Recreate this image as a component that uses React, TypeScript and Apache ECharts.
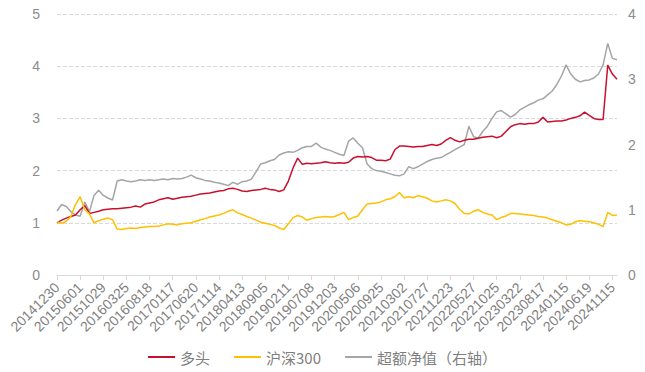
import React, { useEffect, useRef } from "react";
import * as echarts from "echarts";

const X_LABELS = [
  "20141230", "20150601", "20151029", "20160325", "20160818", "20170117", "20170620",
  "20171114", "20180413", "20180905", "20190211", "20190708", "20191203", "20200506",
  "20200925", "20210302", "20210727", "20211223", "20220527", "20221025", "20230322",
  "20230817", "20240115", "20240619", "20241115",
];
const POINTS_PER_LABEL = 5;

const LONG_NAV = [
  1.00, 1.05, 1.09, 1.12, 1.15, 1.25, 1.33, 1.18, 1.20, 1.22,
  1.25, 1.26, 1.27, 1.27, 1.28, 1.29, 1.30, 1.32, 1.30, 1.36,
  1.38, 1.40, 1.44, 1.46, 1.48, 1.45, 1.47, 1.49, 1.50, 1.51,
  1.53, 1.55, 1.56, 1.57, 1.59, 1.61, 1.62, 1.65, 1.66, 1.64,
  1.61, 1.60, 1.62, 1.63, 1.64, 1.66, 1.64, 1.63, 1.60, 1.63,
  1.80, 2.05, 2.24, 2.12, 2.14, 2.13, 2.14, 2.15, 2.17, 2.15,
  2.14, 2.15, 2.14, 2.16, 2.24, 2.27, 2.26, 2.27, 2.25, 2.20,
  2.20, 2.19, 2.22, 2.40, 2.47, 2.47, 2.46, 2.45, 2.46, 2.46,
  2.48, 2.50, 2.48, 2.51, 2.58, 2.63, 2.58, 2.55, 2.58, 2.60,
  2.60, 2.62, 2.64, 2.65, 2.66, 2.63, 2.66, 2.75, 2.84, 2.88,
  2.90, 2.89, 2.90, 2.90, 2.93, 3.02, 2.93, 2.94, 2.95, 2.95,
  2.97, 3.00, 3.02, 3.05, 3.12, 3.06, 3.00, 2.98, 2.98, 4.02,
  3.85, 3.75,
];

const HS300 = [
  1.02, 0.99, 1.03, 1.12, 1.35, 1.50, 1.25, 1.17, 1.00, 1.04,
  1.07, 1.09, 1.06, 0.88, 0.87, 0.89, 0.90, 0.89, 0.91, 0.92,
  0.93, 0.93, 0.94, 0.96, 0.98, 0.97, 0.96, 0.98, 0.99, 1.00,
  1.03, 1.06, 1.08, 1.11, 1.13, 1.15, 1.18, 1.22, 1.25, 1.19,
  1.16, 1.12, 1.09, 1.05, 1.01, 0.99, 0.97, 0.95, 0.90, 0.87,
  0.98, 1.10, 1.14, 1.11, 1.05, 1.08, 1.10, 1.11, 1.12, 1.11,
  1.12, 1.16, 1.20, 1.06, 1.10, 1.13, 1.25, 1.36, 1.37, 1.38,
  1.40, 1.44, 1.46, 1.50, 1.58, 1.48, 1.50, 1.48, 1.52, 1.50,
  1.47, 1.42, 1.40, 1.42, 1.44, 1.42, 1.37, 1.26, 1.18, 1.17,
  1.22, 1.25, 1.20, 1.17, 1.15, 1.06, 1.10, 1.13, 1.18, 1.18,
  1.17, 1.16, 1.15, 1.14, 1.12, 1.11, 1.09, 1.06, 1.03, 1.00,
  0.96, 0.97, 1.02, 1.04, 1.03, 1.02, 1.00, 0.97, 0.93, 1.20,
  1.14, 1.15,
];

const EXCESS = [
  0.98, 1.08, 1.05, 0.97, 0.92, 0.90, 1.12, 0.97, 1.22, 1.30,
  1.22, 1.18, 1.15, 1.44, 1.46, 1.44, 1.43, 1.44, 1.46, 1.45,
  1.46, 1.45, 1.46, 1.47, 1.46, 1.48, 1.47, 1.48, 1.50, 1.53,
  1.49, 1.47, 1.45, 1.44, 1.42, 1.41, 1.39, 1.37, 1.42, 1.39,
  1.43, 1.44, 1.47, 1.58, 1.70, 1.72, 1.75, 1.77, 1.84, 1.87,
  1.89, 1.88, 1.91, 1.95, 1.97, 1.97, 2.02, 1.96, 1.93, 1.91,
  1.88, 1.85, 1.83, 2.05, 2.10, 2.02, 1.95, 1.70, 1.63, 1.60,
  1.59, 1.57, 1.55, 1.53, 1.52, 1.55, 1.66, 1.63, 1.66, 1.70,
  1.74, 1.77, 1.79, 1.80, 1.84, 1.88, 1.92, 1.96, 2.00, 2.28,
  2.12, 2.10, 2.20, 2.28, 2.40, 2.50, 2.52, 2.47, 2.42, 2.46,
  2.53, 2.57, 2.61, 2.64, 2.68, 2.70, 2.76, 2.82, 2.92, 3.05,
  3.22, 3.08, 3.00, 2.96, 2.98, 2.99, 3.02, 3.08, 3.22, 3.55,
  3.32, 3.30,
];

const SERIES_NAMES = ["多头", "沪深300", "超额净值（右轴）"];
const COLORS = ["#C8102E", "#FFC000", "#A5A5A5"];

const CJK_FONT = "'Noto Sans CJK SC', 'Noto Sans', sans-serif";
const NUM_FONT = "'Liberation Sans', Arial, sans-serif";

export default function App() {
  const ref = useRef<HTMLDivElement>(null);

  useEffect(() => {
    if (!ref.current) return;
    const chart = echarts.init(ref.current, undefined, { renderer: "svg" });
    const categories = LONG_NAV.map((_, i) =>
      i % POINTS_PER_LABEL === 0 ? X_LABELS[i / POINTS_PER_LABEL] ?? "" : ""
    );
    chart.setOption({
      animation: false,
      textStyle: { fontFamily: CJK_FONT },
      grid: { left: 57, right: 28, top: 14, bottom: 97, containLabel: false },
      legend: {
        top: 346,
        left: "center",
        padding: [2, 5, 2, 5],
        icon: "rect",
        itemWidth: 27,
        itemHeight: 2,
        itemGap: 24,
        textStyle: { color: "#7F7F7F", fontSize: 15, fontFamily: CJK_FONT, lineHeight: 18 },
        data: SERIES_NAMES,
      },
      xAxis: {
        type: "category",
        data: categories,
        boundaryGap: false,
        axisLine: { lineStyle: { color: "#D9D9D9" } },
        axisTick: { interval: POINTS_PER_LABEL - 1, lineStyle: { color: "#D9D9D9" } },
        axisLabel: {
          interval: POINTS_PER_LABEL - 1,
          rotate: 45,
          color: "#7F7F7F",
          fontSize: 14,
          fontFamily: NUM_FONT,
          margin: 10,
        },
      },
      yAxis: [
        {
          type: "value",
          min: 0,
          max: 5,
          interval: 1,
          axisLine: { show: false },
          axisTick: { show: false },
          axisLabel: { color: "#8C8C8C", fontSize: 14, fontFamily: NUM_FONT, margin: 17 },
          splitLine: { lineStyle: { color: "#D9D9D9", type: "dashed" } },
        },
        {
          type: "value",
          min: 0,
          max: 4,
          interval: 1,
          axisLine: { show: false },
          axisTick: { show: false },
          axisLabel: { color: "#8C8C8C", fontSize: 14, fontFamily: NUM_FONT, margin: 11 },
          splitLine: { show: false },
        },
      ],
      series: [
        {
          name: SERIES_NAMES[0],
          type: "line",
          data: LONG_NAV,
          yAxisIndex: 0,
          symbol: "none",
          z: 3,
          lineStyle: { color: COLORS[0], width: 1.5 },
          itemStyle: { color: COLORS[0] },
        },
        {
          name: SERIES_NAMES[1],
          type: "line",
          data: HS300,
          yAxisIndex: 0,
          symbol: "none",
          z: 3,
          lineStyle: { color: COLORS[1], width: 1.5 },
          itemStyle: { color: COLORS[1] },
        },
        {
          name: SERIES_NAMES[2],
          type: "line",
          data: EXCESS,
          yAxisIndex: 1,
          symbol: "none",
          z: 2,
          lineStyle: { color: COLORS[2], width: 1.5 },
          itemStyle: { color: COLORS[2] },
        },
      ],
    });
    return () => chart.dispose();
  }, []);

  return (
    <div
      ref={ref}
      style={{ position: "fixed", left: 0, top: 0, width: 645, height: 372, background: "#fff" }}
    />
  );
}
